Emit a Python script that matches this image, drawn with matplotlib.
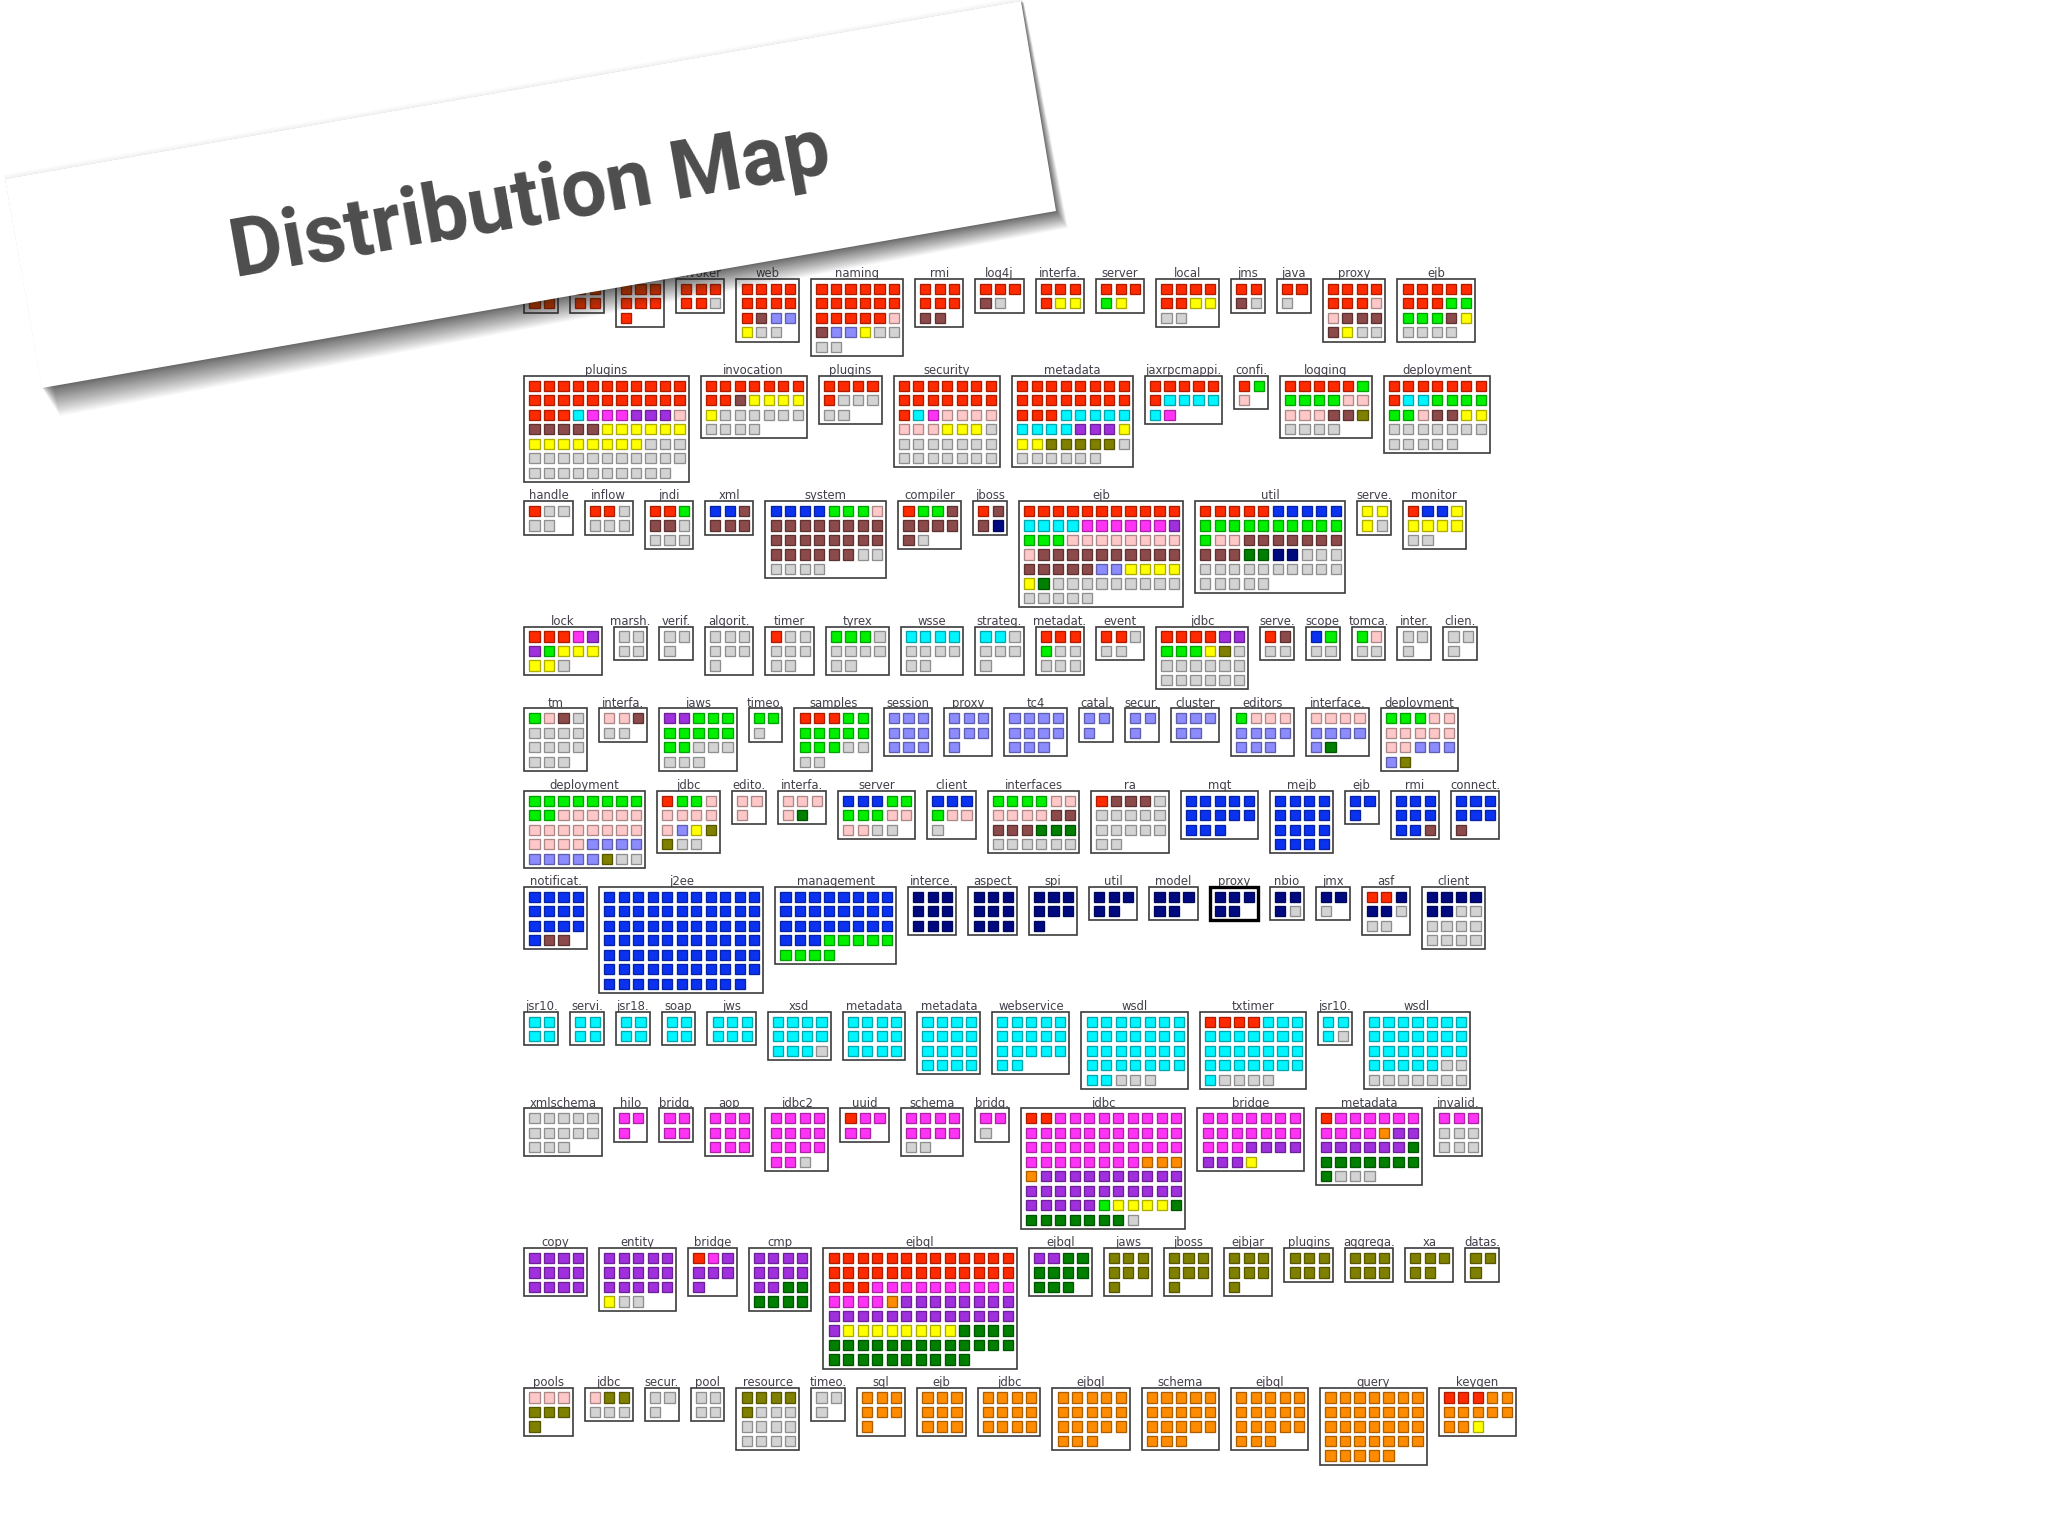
import matplotlib
matplotlib.use("Agg")
import matplotlib.pyplot as plt
from matplotlib.colors import to_rgb
from matplotlib.patches import Polygon, Rectangle

# one letter per class, cells are read left to right, wrapped at the box width
colors = {
    "r": "#ff2a00", "m": "#8c4a4a", "b": "#8c8cff", "y": "#ffff00", "g": "#d3d3d3",
    "G": "#00f000", "p": "#ffc8c8", "c": "#00f5ff", "M": "#ff33f5", "v": "#a030dd",
    "o": "#808000", "d": "#007f00", "B": "#0a32f0", "n": "#000a80", "O": "#ff8c00",
}

row1_names = ["", "", "", "invoker", "web", "naming", "rmi", "log4j", "interfa.", "server",
              "local", "jms", "java", "proxy", "ejb"]
row1_cols = [2, 2, 3, 3, 4, 6, 3, 3, 3, 3, 4, 2, 2, 4, 5]
row1_cells = ["rrrr", "rrrr", "rrrrrrr", "rrrrrg", "rrrrrrrrrmbbygg",
              "rrrrrrrrrrrrrrrrrpmbbygggg", "rrrrrrmm", "rrrmg", "rrrryy", "rrrGy",
              "rrrrrryygg", "rrmg", "rrg", "rrrrrrrppmmmmygg", "rrrrrrrrGGGGGmygggg"]

row2_names = ["plugins", "invocation", "plugins", "security", "metadata", "jaxrpcmappi.",
              "confi.", "logging", "deployment"]
row2_cols = [11, 7, 4, 7, 8, 5, 2, 6, 7]
row2_cells = ["r" * 25 + "cMMMvvvp" + "mmmmm" + "y" * 14 + "g" * 24,
              "r" * 9 + "myyyy" + "y" + "g" * 10,
              "rrrrrgggg" + "g",
              "r" * 15 + "cMpppp" + "pppyyyg" + "g" * 14,
              "r" * 19 + "c" * 9 + "vvv" + "yyy" + "ooooo" + "g" * 7,
              "rrrrrrcccccM",
              "rGp",
              "rrrrrG" + "GGGGpp" + "pppmmo" + "gggg",
              "r" * 8 + "ccGGGG" + "GGpmmyy" + "g" * 12]

row3_names = ["handle", "inflow", "jndi", "xml", "system", "compiler", "jboss", "ejb", "util",
              "serve.", "monitor"]
row3_cols = [3, 3, 3, 3, 8, 4, 2, 11, 10, 2, 4]
row3_cells = ["rgggg", "rrgggg", "rrGmmgggg", "BBmmmm",
              "BBBBGGGp" + "m" * 22 + "gg" + "gggg",
              "rGGmmmmmmg", "rmmn",
              "r" * 11 + "cccc" + "M" * 6 + "v" + "GGG" + "p" * 9 + "m" * 15 + "bbyyyy" + "yd" + "g" * 14,
              "rrrrrBBBBB" + "G" * 11 + "pp" + "m" * 10 + "ddnnggg" + "g" * 15,
              "yyyg", "rBByyyyygg"]

row4_names = ["lock", "marsh.", "verif.", "algorit.", "timer", "tyrex", "wsse", "strateg.",
              "metadat.", "event", "jdbc", "serve.", "scope", "tomca.", "inter.", "clien."]
row4_cols = [5, 2, 2, 3, 3, 4, 4, 3, 3, 3, 6, 2, 2, 2, 2, 2]
row4_cells = ["rrrMvvGyyyyyg", "gggg", "ggg", "ggggggg", "rgggggg" + "g", "GGGg" + "gggggg",
              "cccc" + "gggggg", "ccg" + "gggg", "rrrGggggg", "rrggg",
              "rrrrvvGGGyog" + "g" * 12, "rmgg", "BGgg", "Gpgg", "ggg", "ggg"]

row5_names = ["tm", "interfa.", "jaws", "timeo.", "samples", "session", "proxy", "tc4", "catal.",
              "secur.", "cluster", "editors", "interface.", "deployment"]
row5_cols = [4, 3, 5, 2, 5, 3, 3, 4, 2, 2, 3, 4, 4, 5]
row5_cells = ["Gpmg" + "g" * 11, "ppmgg", "vv" + "G" * 10 + "ggg" + "ggg", "GGg",
              "rrr" + "G" * 10 + "gg" + "gg", "b" * 9, "b" * 7, "b" * 11, "bbb", "bbb", "b" * 5,
              "Gppp" + "b" * 7, "pppp" + "bbbbbd", "GGG" + "p" * 9 + "bbbbo"]

row6_names = ["deployment", "jdbc", "edito.", "interfa.", "server", "client", "interfaces", "ra",
              "mqt", "mejb", "ejb", "rmi", "connect."]
row6_cols = [8, 4, 2, 3, 5, 3, 6, 5, 5, 4, 2, 3, 3]
row6_cells = ["G" * 10 + "p" * 18 + "b" * 9 + "ogg",
              "rGGp" + "pppp" + "pbyo" + "ogg",
              "ppp", "ppppd", "BBB" + "G" * 5 + "pppp" + "gg", "BBBGppg",
              "GGGGpp" + "ppppmm" + "mmmddd" + "g" * 6,
              "rmmmg" + "g" * 12, "B" * 13, "B" * 16, "BBB", "B" * 8 + "m", "B" * 6 + "m"]

row7_names = ["notificat.", "j2ee", "management", "interce.", "aspect", "spi", "util", "model",
              "proxy", "nbio", "jmx", "asf", "client"]
row7_cols = [4, 11, 8, 3, 3, 3, 3, 3, 3, 2, 2, 3, 4]
row7_cells = ["B" * 13 + "mm", "B" * 76, "B" * 27 + "G" * 9, "n" * 9, "n" * 9, "n" * 7, "n" * 5,
              "n" * 5, "n" * 5, "nnng", "nng", "rrnnnggg" , "nnnnnn" + "g" * 10]
selected_name = "proxy"
selected_row = 6

row8_names = ["jsr10.", "servi.", "jsr18.", "soap", "jws", "xsd", "metadata", "metadata",
              "webservice", "wsdl", "txtimer", "jsr10.", "wsdl"]
row8_cols = [2, 2, 2, 2, 3, 4, 4, 4, 5, 7, 7, 2, 7]
row8_cells = ["cccc", "cccc", "cccc", "cccc", "c" * 6, "c" * 11 + "g", "c" * 12, "c" * 16, "c" * 17,
              "c" * 30 + "ggg", "rrrr" + "c" * 25 + "gggg", "cccg", "c" * 26 + "g" * 9]

row9_names = ["xmlschema", "hilo", "bridg.", "aop", "jdbc2", "uuid", "schema", "bridg.", "jdbc",
              "bridge", "metadata", "invalid."]
row9_cols = [5, 2, 2, 3, 4, 3, 4, 2, 11, 7, 7, 3]
row9_cells = ["g" * 13, "MMM", "MMMM", "M" * 9, "M" * 14 + "g", "rMMMM", "M" * 8 + "gg", "MMg",
              "rr" + "M" * 39 + "OOOO" + "v" * 26 + "Gyyyyd" + "d" * 7 + "g",
              "M" * 17 + "v" * 7 + "y",
              "r" + "M" * 10 + "Ovv" + "v" * 6 + "d" * 8 + "dggg",
              "MMM" + "g" * 6]

row10_names = ["copy", "entity", "bridge", "cmp", "ejbql", "ejbql", "jaws", "jboss", "ejbjar",
               "plugins", "aggrega.", "xa", "datas."]
row10_cols = [4, 5, 3, 4, 13, 4, 3, 3, 3, 3, 3, 3, 2]
row10_cells = ["v" * 12, "v" * 15 + "ygg", "rMv" + "vvvv", "v" * 10 + "d" * 6,
               "r" * 29 + "M" * 14 + "O" + "v" * 22 + "y" * 8 + "d" * 27,
               "vv" + "d" * 9, "o" * 7, "o" * 7, "o" * 7, "o" * 6, "o" * 6, "o" * 5, "ooo"]

row11_names = ["pools", "jdbc", "secur.", "pool", "resource", "timeo.", "sql", "ejb", "jdbc",
               "ejbql", "schema", "ejbql", "query", "keygen"]
row11_cols = [3, 3, 2, 2, 4, 2, 3, 3, 4, 5, 5, 5, 7, 5]
row11_cells = ["pppoooo", "poogg" + "g", "ggg", "gggg", "ooooo" + "g" * 11, "ggg", "O" * 7, "O" * 9,
               "O" * 12, "O" * 18, "O" * 18, "O" * 18, "O" * 33, "rrr" + "O" * 9 + "y"]

rows = [
    (row1_names, row1_cols, row1_cells),
    (row2_names, row2_cols, row2_cells),
    (row3_names, row3_cols, row3_cells),
    (row4_names, row4_cols, row4_cells),
    (row5_names, row5_cols, row5_cells),
    (row6_names, row6_cols, row6_cells),
    (row7_names, row7_cols, row7_cells),
    (row8_names, row8_cols, row8_cells),
    (row9_names, row9_cols, row9_cells),
    (row10_names, row10_cols, row10_cells),
    (row11_names, row11_cols, row11_cells),
]

# layout, in pixels
row_tops = [279, 375.7, 501, 626.5, 708.3, 790.7, 886.7, 1011.7, 1108.3, 1248, 1387.5]
left = 524.3
gap = 12
pitch = 14.5
pad_x = 4.8
pad_y = 4.5

fig = plt.figure(figsize=(20.48, 15.36), dpi=100)
ax = fig.add_axes([0, 0, 1, 1])
ax.set_xlim(0, 2048)
ax.set_ylim(1536, 0)
ax.axis("off")


def darker(c, k=0.68):
    return tuple(v * k for v in to_rgb(c))


for r, (names, cols, cells) in enumerate(rows):
    x = left
    top = row_tops[r]
    for name, n, cell in zip(names, cols, cells):
        nrows = (len(cell) + n - 1) // n
        w = n * pitch + pad_x
        h = nrows * pitch + pad_y
        ax.text(x + w / 2, top - 1.6, name, ha="center", va="baseline", fontsize=8.4,
                color="#443e4a", family="DejaVu Sans", zorder=2)
        thick = r == selected_row and name == selected_name
        ax.add_patch(Rectangle((x, top), w, h, facecolor="white",
                               edgecolor="black" if thick else "#3c3c3c",
                               lw=2.4 if thick else 1.2, zorder=3))
        for i, code in enumerate(cell):
            cx = x + 5.1 + (i % n) * pitch
            cy = top + 4.8 + (i // n) * pitch
            ax.add_patch(Rectangle((cx, cy), 10.2, 10.2, facecolor=colors[code],
                                   edgecolor=darker(colors[code]), lw=0.95, zorder=4))
        x += w + gap

# paper strip on top, with its soft shadow
strip = [(5, 179), (1021, 1), (1056, 211), (42, 388)]
far = [(8, 181), (1024, 3), (1068, 228), (60, 416)]
steps = 40
for s in range(steps):
    t = (1 - s / (steps - 1)) ** 1.5
    pts = [(a[0] + (b[0] - a[0]) * t, a[1] + (b[1] - a[1]) * t) for a, b in zip(strip, far)]
    ax.add_patch(Polygon(pts, closed=True, facecolor="#2a2a2a", edgecolor="none",
                         alpha=0.028, zorder=6))
# faint glow along the upper edge
up = [(3, 175), (1021, -3), (1026, 3), (8, 181)]
for s in range(5):
    t = 1 - s / 5
    pts = [(a[0] + (b[0] - a[0]) * (1 - t), a[1] + (b[1] - a[1]) * (1 - t)) for a, b in zip(up, far)]
    ax.add_patch(Polygon(pts, closed=True, facecolor="#888888", edgecolor="none",
                         alpha=0.03, zorder=6))
ax.add_patch(Polygon(strip, closed=True, facecolor="white", edgecolor="none", zorder=7))
ax.text(530, 203, "Distribution Map", rotation=10, rotation_mode="anchor", ha="center", va="center",
        fontsize=58.5, fontweight="bold", family="Roboto", color="#4d4d4d", zorder=8)

fig.savefig("out.png", dpi=100, facecolor="white")
